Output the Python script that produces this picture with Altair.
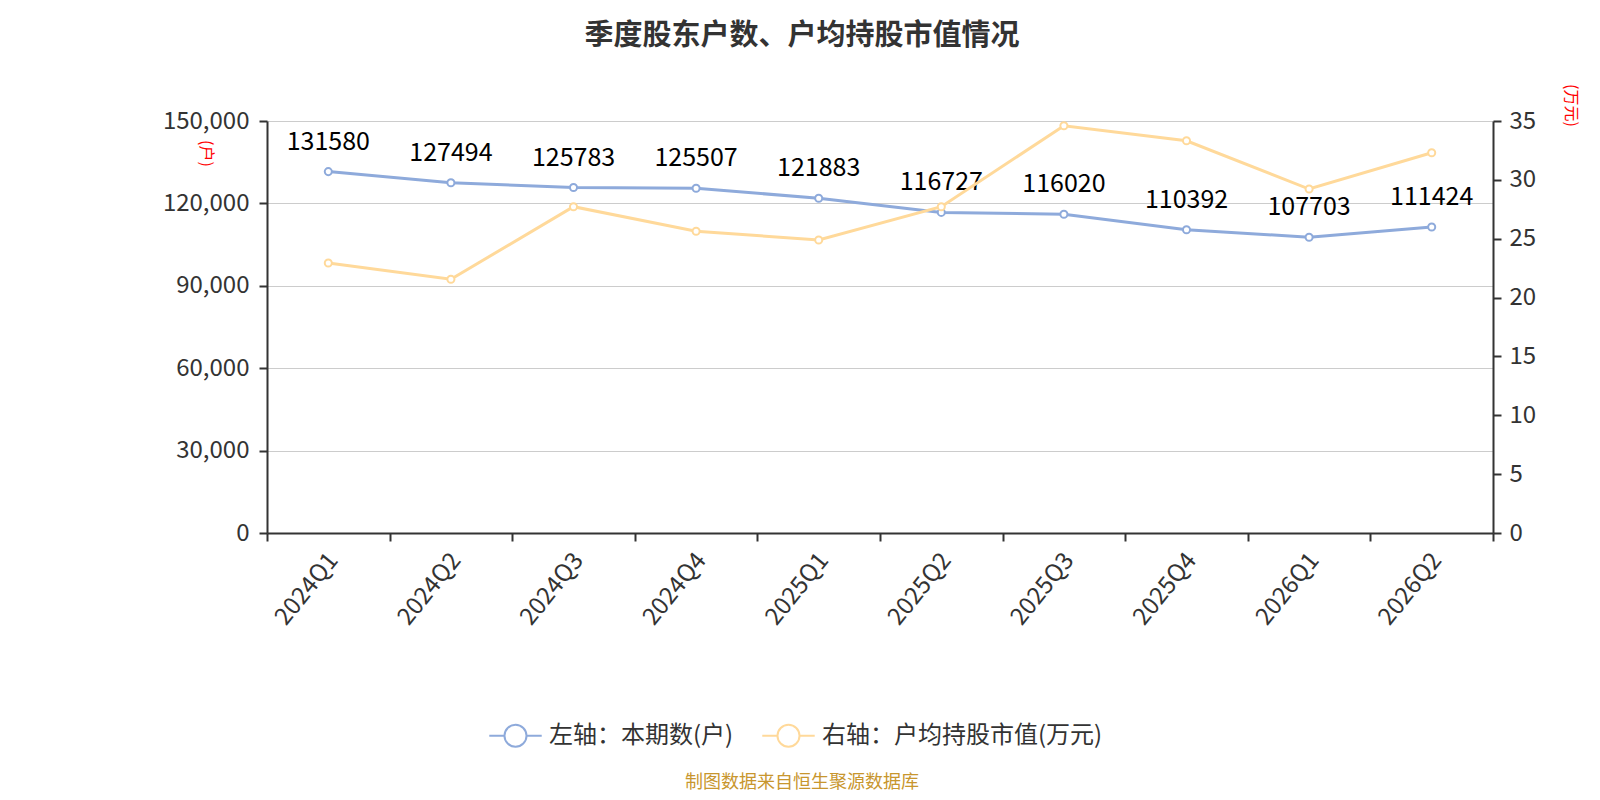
import altair as alt
import pandas as pd

quarters = ["2024Q1", "2024Q2", "2024Q3", "2024Q4", "2025Q1",
            "2025Q2", "2025Q3", "2025Q4", "2026Q1", "2026Q2"]
holders = [131580, 127494, 125783, 125507, 121883,
           116727, 116020, 110392, 107703, 111424]
avg_value = [22.94, 21.56, 27.72, 25.64, 24.89,
             27.72, 34.60, 33.32, 29.22, 32.30]

left_name = "左轴：本期数(户)"
right_name = "右轴：户均持股市值(万元)"
blue = "#8eaadb"
orange = "#ffd99a"
font = "Noto Sans CJK SC"

df_left = pd.DataFrame({"quarter": quarters, "value": holders, "series": left_name})
df_right = pd.DataFrame({"quarter": quarters, "value": avg_value, "series": right_name})

x_enc = alt.X("quarter:N", sort=quarters, title=None,
              scale=alt.Scale(paddingInner=0, paddingOuter=0),
              axis=alt.Axis(labelAngle=-51, labelAlign="right", labelBaseline="middle",
                            labelFontSize=24, labelColor="#333", labelFont=font,
                            labelPadding=15, labelOffset=5, tickBand="extent", tickSize=8,
                            tickColor="#333", domainColor="#333", domainWidth=2,
                            tickWidth=2, grid=False))

color_enc = alt.Color("series:N",
                      scale=alt.Scale(domain=[left_name, right_name], range=[blue, orange]),
                      legend=alt.Legend(title=None, orient="none", direction="horizontal",
                                        legendX=221, legendY=587, labelLimit=0))

y_left = alt.Y("value:Q", title="(户)",
               scale=alt.Scale(domain=[0, 150000], nice=False),
               axis=alt.Axis(values=[0, 30000, 60000, 90000, 120000, 150000], format=",d",
                             labelFontSize=24, labelColor="#333", labelFont=font,
                             tickSize=8, tickColor="#333", domainColor="#333",
                             domainWidth=2, tickWidth=2, labelPadding=10,
                             grid=True, gridColor="#cccccc", gridWidth=1.2,
                             titleAngle=90, titleX=-62, titleY=32, titleColor="red",
                             titleFontSize=16, titleFontWeight="normal", titleFont=font,
                             titleAlign="center", titleBaseline="middle"))

y_right = alt.Y("value:Q", title="(万元)",
                scale=alt.Scale(domain=[0, 35], nice=False),
                axis=alt.Axis(orient="right", values=[0, 5, 10, 15, 20, 25, 30, 35],
                              labelFontSize=24, labelColor="#333", labelFont=font,
                              tickSize=8, tickColor="#333", domainColor="#333",
                              domainWidth=2, tickWidth=2, labelPadding=8,
                              grid=False,
                              titleAngle=90, titleX=77, titleY=-16, titleColor="red",
                              titleFontSize=16, titleFontWeight="normal", titleFont=font,
                              titleAlign="center", titleBaseline="middle"))

base_l = alt.Chart(df_left).encode(x=x_enc, y=y_left)
line_l = base_l.mark_line(strokeWidth=3).encode(color=color_enc)
pts_l = base_l.mark_point(filled=False, fill="white", fillOpacity=1, size=50,
                          strokeWidth=2, opacity=1).encode(color=color_enc)
txt_l = base_l.mark_text(dy=-30, fontSize=25, color="#000", font=font,
                         baseline="middle").encode(text="value:Q")
left = alt.layer(line_l, pts_l, txt_l)

base_r = alt.Chart(df_right).encode(x=x_enc, y=y_right)
line_r = base_r.mark_line(strokeWidth=3).encode(color=color_enc)
pts_r = base_r.mark_point(filled=False, fill="white", fillOpacity=1, size=50,
                          strokeWidth=2, opacity=1).encode(color=color_enc)
right = alt.layer(line_r, pts_r)

caption = alt.Chart(pd.DataFrame({"t": ["制图数据来自恒生聚源数据库"]})).mark_text(
    fontSize=18, color="#c8962e", font=font, align="center", baseline="middle"
).encode(text="t:N", x=alt.value(535), y=alt.value(662))

chart = alt.layer(left, right, caption).resolve_scale(y="independent").properties(
    width=1226, height=412,
    autosize=alt.AutoSizeParams(type="none"),
    padding={"left": 259, "top": 113, "right": 99, "bottom": 259},
    title=alt.TitleParams("季度股东户数、户均持股市值情况", fontSize=29, fontWeight="bold",
                          color="#333", font=font, anchor="middle", dx=-78, offset=33),
).configure_view(stroke=None).configure_legend(
    symbolType="M-1,0 L-0.42,0 M0.42,0 L1,0 M0.42,0 A0.42,0.42 0 1,1 -0.42,0 A0.42,0.42 0 1,1 0.42,0",
    symbolSize=2750, symbolStrokeWidth=2, symbolFillColor="white",
    labelFontSize=24, labelColor="#333", labelFont=font, labelOffset=6,
    columnPadding=24
)

chart.save("out.html", embed_options={"renderer": "svg", "actions": False})
